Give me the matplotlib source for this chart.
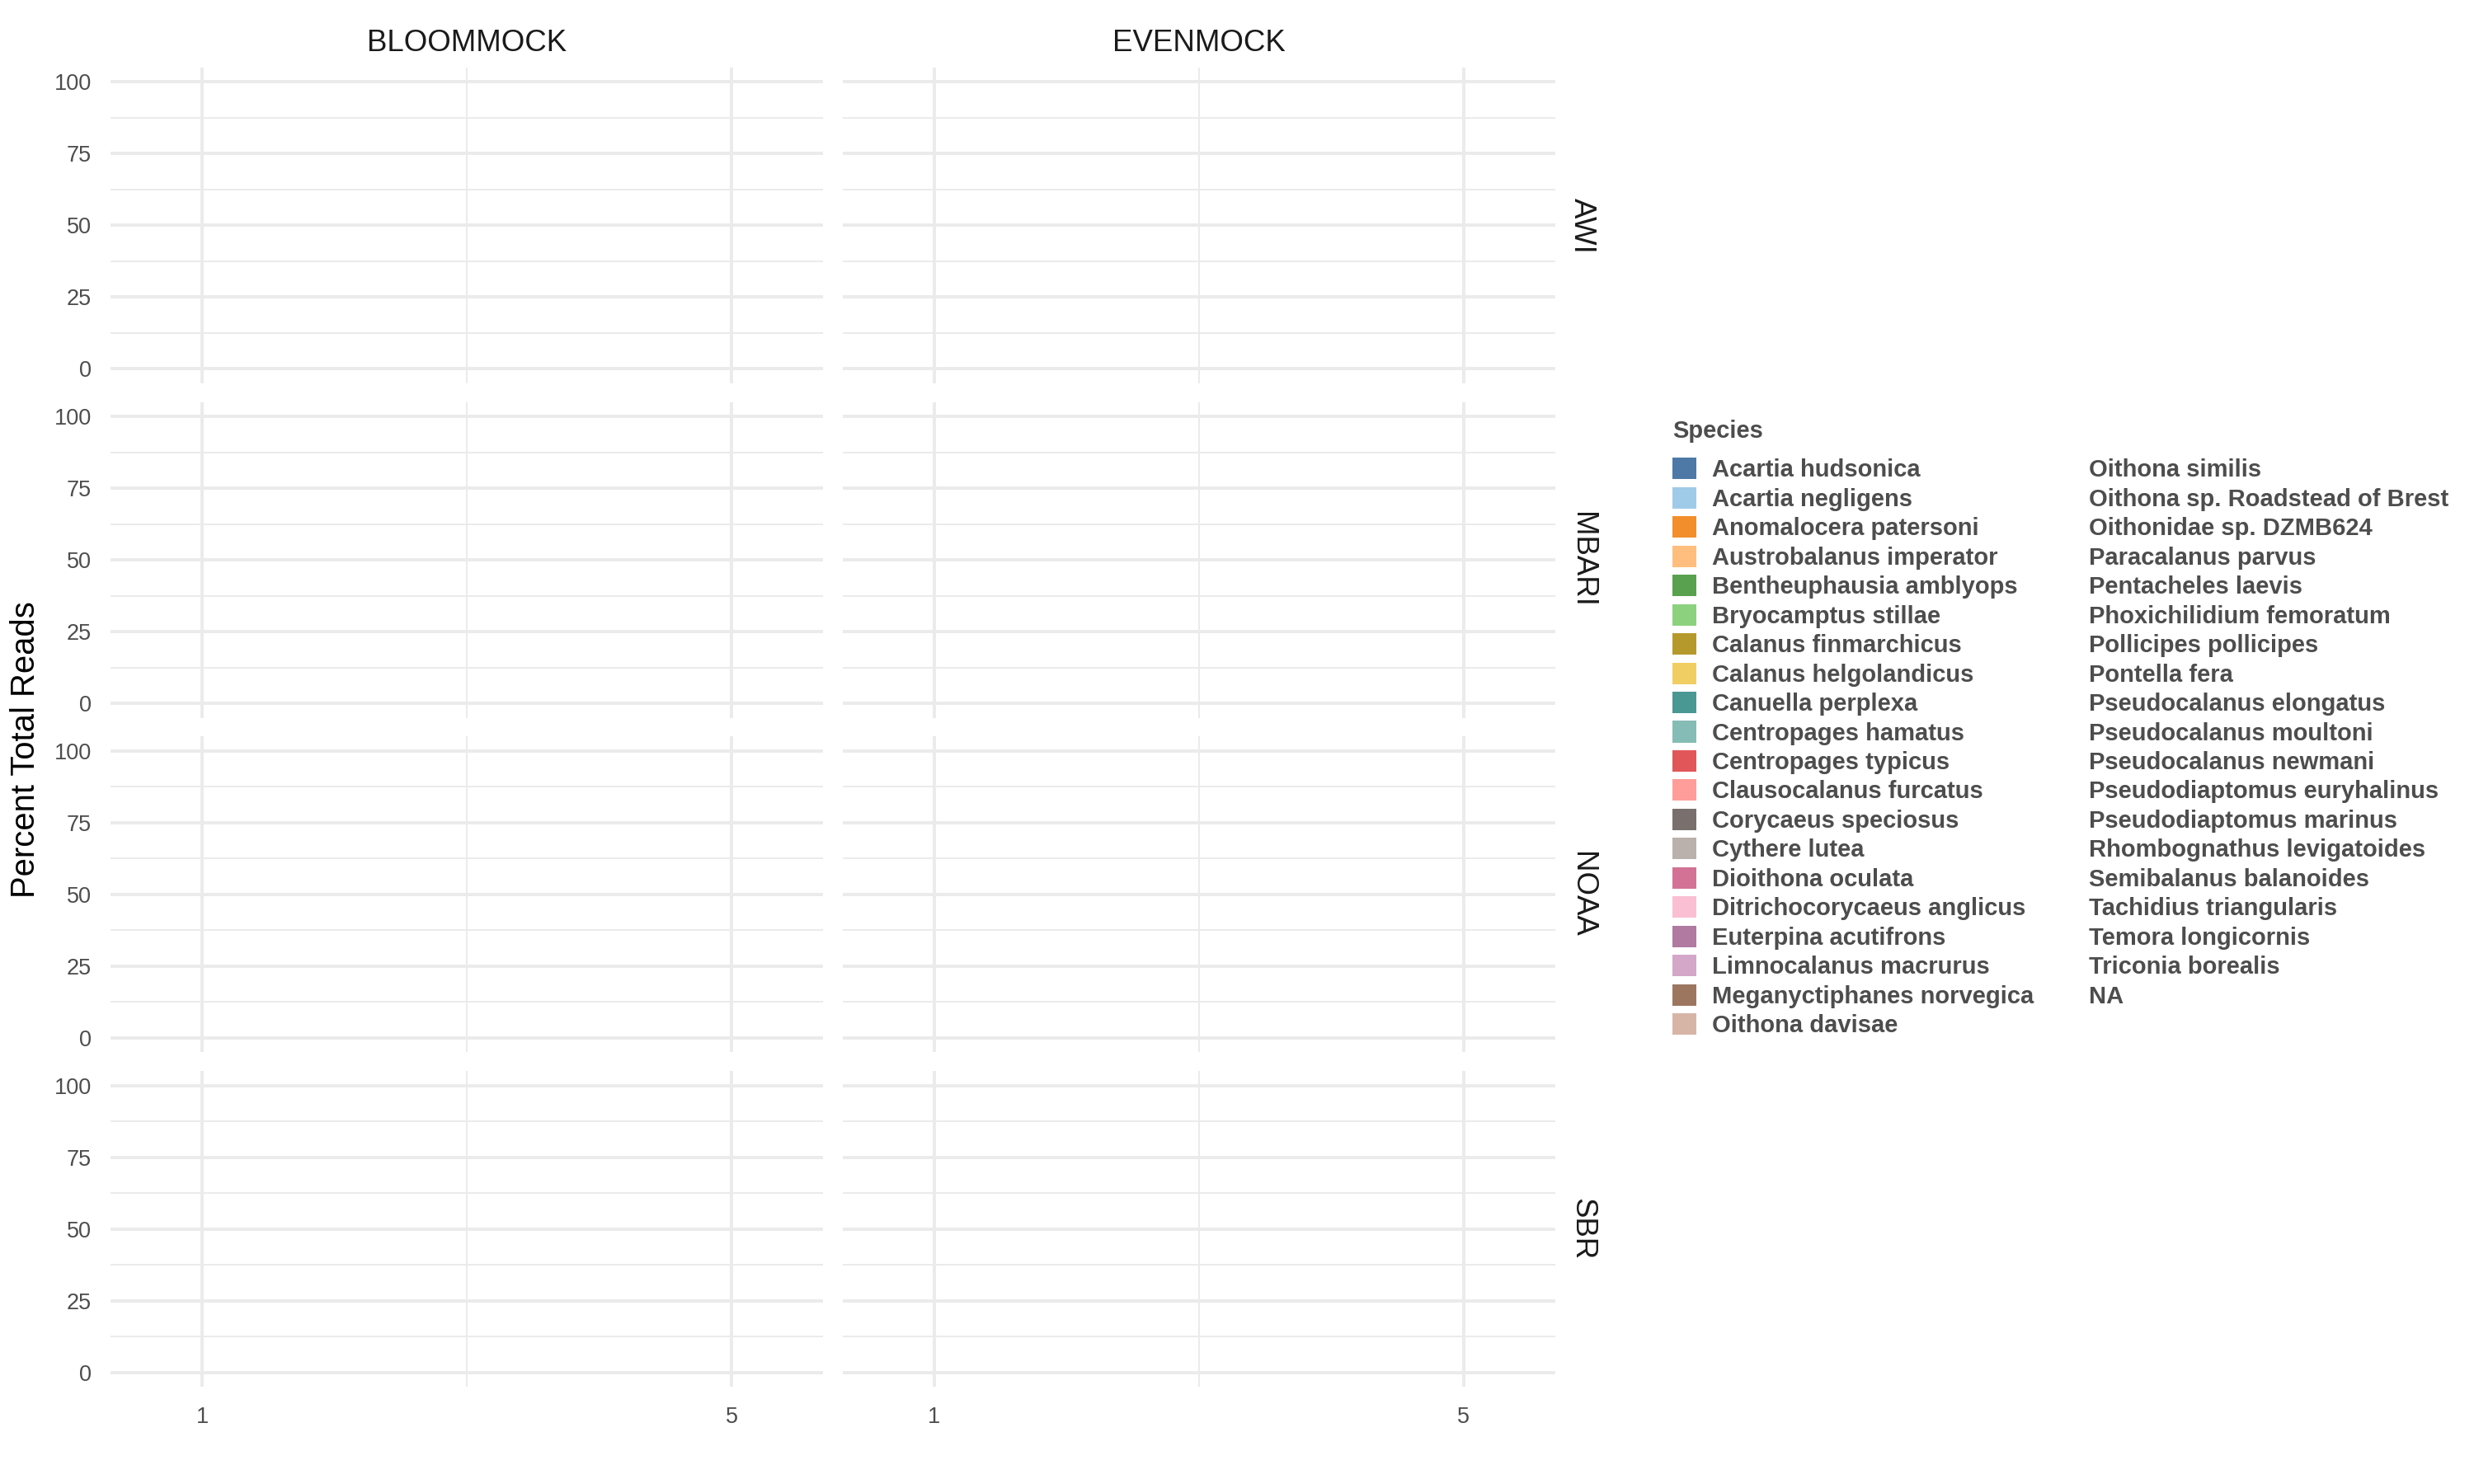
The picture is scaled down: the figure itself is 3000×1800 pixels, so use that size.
import matplotlib
matplotlib.use("Agg")
import matplotlib.pyplot as plt
from matplotlib.patches import Patch
import numpy as np

plt.rcParams['font.family'] = ['Liberation Sans', 'DejaVu Sans']

# facets
mocks = ["BLOOMMOCK", "EVENMOCK"]
labs = ["AWI", "MBARI", "NOAA", "SBR"]

# samples on the x axis (bars are all empty in the source figure)
samples = [1, 2, 3, 4, 5]
percent = [0, 0, 0, 0, 0]

species = [
    "Acartia hudsonica", "Acartia negligens", "Anomalocera patersoni",
    "Austrobalanus imperator", "Bentheuphausia amblyops", "Bryocamptus stillae",
    "Calanus finmarchicus", "Calanus helgolandicus", "Canuella perplexa",
    "Centropages hamatus", "Centropages typicus", "Clausocalanus furcatus",
    "Corycaeus speciosus", "Cythere lutea", "Dioithona oculata",
    "Ditrichocorycaeus anglicus", "Euterpina acutifrons", "Limnocalanus macrurus",
    "Meganyctiphanes norvegica", "Oithona davisae",
    "Oithona similis", "Oithona sp. Roadstead of Brest", "Oithonidae sp. DZMB624",
    "Paracalanus parvus", "Pentacheles laevis", "Phoxichilidium femoratum",
    "Pollicipes pollicipes", "Pontella fera", "Pseudocalanus elongatus",
    "Pseudocalanus moultoni", "Pseudocalanus newmani", "Pseudodiaptomus euryhalinus",
    "Pseudodiaptomus marinus", "Rhombognathus levigatoides", "Semibalanus balanoides",
    "Tachidius triangularis", "Temora longicornis", "Triconia borealis", "NA",
]

# tableau 20 - runs out after 20 species, the rest get no swatch
palette = [
    "#4E79A7", "#A0CBE8", "#F28E2B", "#FFBE7D", "#59A14F", "#8CD17D",
    "#B6992D", "#F1CE63", "#499894", "#86BCB6", "#E15759", "#FF9D9A",
    "#79706E", "#BAB0AC", "#D37295", "#FABFD2", "#B07AA1", "#D4A6C8",
    "#9D7660", "#D7B5A6",
]

grid_col = "#EBEBEB"
txt_grey = "#4D4D4D"

fig, axes = plt.subplots(4, 2, figsize=(10, 6), dpi=300, sharex=True, sharey=True)
fig.subplots_adjust(left=134/3000, right=1886/3000, top=1-82/1800,
                    bottom=1-1682/1800, wspace=23/864, hspace=23/383)

for i, lab in enumerate(labs):
    for j, mock in enumerate(mocks):
        ax = axes[i, j]
        ax.bar(samples, percent, width=0.9, color=palette[0], linewidth=0)
        ax.set_xlim(0.305, 5.695)
        ax.set_ylim(-5, 105)
        ax.set_xticks([1, 5])
        ax.set_xticks([3], minor=True)
        ax.set_yticks([0, 25, 50, 75, 100])
        ax.set_yticks([12.5, 37.5, 62.5, 87.5], minor=True)
        ax.grid(which='major', color=grid_col, linewidth=0.96)
        ax.grid(which='minor', color=grid_col, linewidth=0.48)
        ax.set_axisbelow(True)
        for s in ax.spines.values():
            s.set_visible(False)
        ax.tick_params(which='both', length=0, labelsize=6.5, labelcolor=txt_grey)
        ax.tick_params(axis='y', pad=5.5)
        ax.tick_params(axis='x', pad=5.8)
        if i == 0:
            ax.text(0.5, 1.078, mock, transform=ax.transAxes, ha='center',
                    va='center', fontsize=8.8, color="#1A1A1A")
        if j == 1:
            ax.text(1.038, 0.5, lab, transform=ax.transAxes, ha='center',
                    va='center', rotation=-90, fontsize=8.8, color="#1A1A1A")

fig.text(31/3000, 0.495, "Percent Total Reads", rotation=90, ha='center',
         va='center', fontsize=9.6, color="black")

handles = []
for k, sp in enumerate(species):
    if k < len(palette):
        handles.append(Patch(facecolor=palette[k], edgecolor='none'))
    else:
        handles.append(Patch(facecolor='none', edgecolor='none'))

leg = fig.legend(handles, species, loc='upper left',
                 bbox_to_anchor=(2028/3000, 1-509/1800), ncol=2, frameon=False,
                 title="Species", alignment='left', borderpad=0, borderaxespad=0,
                 prop={'weight': 'bold', 'size': 7}, labelcolor=txt_grey,
                 title_fontproperties={'weight': 'bold', 'size': 7},
                 handlelength=1.0, handleheight=1.0, handletextpad=0.65,
                 labelspacing=0.22, columnspacing=0.65)
leg.get_title().set_color(txt_grey)
# more room between the title and the first key
leg._legend_box.sep = 4.4

fig.savefig("out.png", dpi=300, facecolor="white")
